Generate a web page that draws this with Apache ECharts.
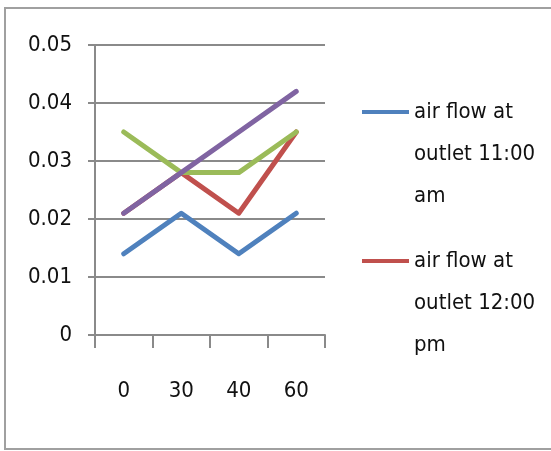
<!DOCTYPE html>
<html>
<head>
<meta charset="utf-8">
<script src="https://cdn.jsdelivr.net/npm/echarts@6/dist/echarts.min.js"></script>
<style>
  html, body { margin: 0; padding: 0; background: #fff; }
  #chart { width: 551px; height: 451px; }
</style>
</head>
<body>
<div id="chart"></div>
<script>
// Sampling times along the x axis
const categories = ['0', '30', '40', '60'];

// Air flow readings at the outlet, one list per time of day
const seriesNames = [
  'air flow at outlet 11:00 am',
  'air flow at outlet 12:00 pm',
  'air flow at outlet 1:00 pm',
  'air flow at outlet 2:00 pm'
];
const flow1100 = [0.014, 0.021, 0.014, 0.021];
const flow1200 = [0.021, 0.028, 0.021, 0.035];
const flow1300 = [0.035, 0.028, 0.028, 0.035];
const flow1400 = [0.021, 0.028, 0.035, 0.042];

const seriesColors = ['#4F81BD', '#C0504D', '#9BBB59', '#8064A2'];

const yTicks = ['0', '0.01', '0.02', '0.03', '0.04', '0.05'];

const FONT = "'DejaVu Sans Condensed', 'DejaVu Sans', sans-serif";
const FONT_SIZE = 22;
const gridGray = '#8a8a8a';

const chart = echarts.init(document.getElementById('chart'), null, { renderer: 'canvas' });

const valueLists = [flow1100, flow1200, flow1300, flow1400];

const series = valueLists.map((vals, i) => ({
  name: seriesNames[i],
  type: 'line',
  data: vals,
  showSymbol: false,
  symbol: 'none',
  animation: false,
  lineStyle: { color: seriesColors[i], width: 5, cap: 'round', join: 'round' },
  itemStyle: { color: seriesColors[i] },
  z: 2 + i
}));

// Legend entry; two empty leading lines keep the swatch level with the first text line
function legendFor(name, top) {
  return {
    show: true,
    orient: 'vertical',
    left: 362,
    top: top,
    padding: 0,
    itemWidth: 47,
    itemHeight: 4,
    itemGap: 0,
    icon: 'rect',
    data: [name],
    formatter: (n) => '\n\n' + n.replace('air flow at outlet ', 'air flow at\noutlet ').replace(/ (am|pm)$/, '\n$1'),
    textStyle: {
      fontFamily: FONT,
      fontSize: FONT_SIZE,
      lineHeight: 42,
      color: '#111'
    }
  };
}

const option = {
  backgroundColor: '#fff',
  animation: false,
  grid: { left: 95, top: 45, right: 226, bottom: 116, containLabel: false },
  legend: [
    legendFor(seriesNames[0], 7),
    legendFor(seriesNames[1], 156)
  ],
  xAxis: {
    type: 'category',
    data: categories,
    boundaryGap: true,
    axisLine: { show: true, lineStyle: { color: gridGray, width: 2 } },
    axisTick: { show: true, length: 13, alignWithLabel: false, lineStyle: { color: gridGray, width: 2 } },
    axisLabel: { fontFamily: FONT, fontSize: FONT_SIZE, lineHeight: 22, color: '#111', margin: 45 },
    splitLine: { show: false }
  },
  yAxis: {
    type: 'value',
    min: 0,
    max: 0.05,
    interval: 0.01,
    axisLine: { show: true, lineStyle: { color: gridGray, width: 2 } },
    axisTick: { show: true, length: 7, lineStyle: { color: gridGray, width: 2 } },
    axisLabel: {
      fontFamily: FONT, fontSize: FONT_SIZE, color: '#111', margin: 23,
      formatter: (v) => yTicks[Math.round(v * 100)]
    },
    splitLine: { show: true, lineStyle: { color: gridGray, width: 2 } }
  },
  graphic: [{
    type: 'rect',
    silent: true,
    z: -10,
    shape: { x: 5, y: 8, width: 560, height: 441 },
    style: { fill: null, stroke: '#a0a0a0', lineWidth: 2 }
  }],
  series: series
};

chart.setOption(option);
</script>
</body>
</html>
